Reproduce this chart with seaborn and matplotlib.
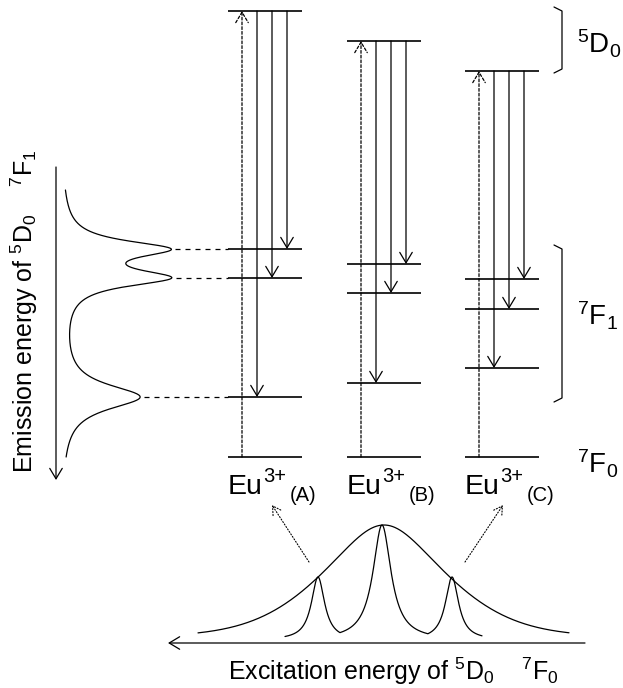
import numpy as np
import pandas as pd
import matplotlib
matplotlib.use("Agg")
import matplotlib.pyplot as plt
import seaborn as sns

# ---------------- data (diagram units: pixels of the reference, y downwards) ----------
sites = ["A", "B", "C"]
site_left = [228, 347, 465]            # left end of each site's level lines
level_len = 74
d0_level = [11, 41, 71]                # 5D0 level per site
f1_levels = [[249, 278, 397],          # 7F1 sublevels per site
             [264, 293, 383],
             [279, 309, 368]]
f0_level = 457                         # 7F0 ground level

# emission spectrum (5D0 -> 7F1 of site A), drawn vertically
em_peak_pos = [249, 278, 397]
em_peak_height = [99, 99, 78]
em_peak_width = [10, 10, 15]
em_baseline = 61
em_range = [190, 457]

# excitation spectrum (5D0 - 7F0)
ex_baseline = 640
ex_broad_center = 384
ex_broad_height = 115
ex_broad_sigma = 68
ex_broad_gamma = 62
ex_broad_range = [198, 569]
ex_narrow_pos = [318, 382, 452]
ex_narrow_height = [63, 115, 63]
ex_narrow_width = [8, 11, 8]
ex_narrow_range = [285, 482]

# ---------------- style ----------------
sns.set_theme(style="white")
plt.rcParams["font.family"] = ["Liberation Sans", "DejaVu Sans"]
plt.rcParams["text.color"] = "black"
plt.rcParams["mathtext.fontset"] = "custom"
plt.rcParams["mathtext.rm"] = "Liberation Sans"
plt.rcParams["mathtext.it"] = "Liberation Sans:italic"
plt.rcParams["mathtext.bf"] = "Liberation Sans:bold"

fig = plt.figure(figsize=(6.23, 6.88), dpi=100)
ax = fig.add_axes([0, 0, 1, 1])
ax.set_xlim(0, 623)
ax.set_ylim(688, 0)
ax.axis("off")
renderer = fig.canvas.get_renderer()

K = "black"
LW_LEVEL = 1.2
LW = 0.9


def arrow(x0, y0, x1, y1, ls="-", lw=LW, hl=0.75, hw=0.45):
    ax.annotate("", xy=(x1, y1), xytext=(x0, y0),
                arrowprops=dict(arrowstyle=f"->,head_length={hl},head_width={hw}",
                                lw=lw, color=K, linestyle=ls,
                                shrinkA=0, shrinkB=0, mutation_scale=10))


def compose(x, y, parts):
    """Place text pieces one after another: (text, size, dy, gap_before)."""
    for txt, size, dy, gap in parts:
        x += gap
        t = ax.text(x, y + dy, txt, fontsize=size, ha="left", va="baseline", color=K)
        bb = t.get_window_extent(renderer=renderer)
        x += bb.width  # 1 data unit == 1 pixel


# ---------------- energy levels ----------------
for i, s in enumerate(sites):
    x0 = site_left[i]
    x1 = x0 + level_len
    for y in [d0_level[i]] + f1_levels[i] + [f0_level]:
        ax.plot([x0, x1], [y, y], color=K, lw=LW_LEVEL, solid_capstyle="butt")
    # excitation (dotted, upward)
    arrow(x0 + 14, f0_level, x0 + 14, d0_level[i], ls=(0, (2.2, 1.6)), lw=0.9)
    # emissions to 7F1 sublevels
    offs = [59, 44, 29]
    for off, y in zip(offs, f1_levels[i]):
        arrow(x0 + off, d0_level[i], x0 + off, y)
    compose(x0, 494, [("Eu", 20.5, 0, 0),
                      ("3+", 14.5, -11.5, 0),
                      ("(%s)" % s, 14.5, 7, 4)])

# brackets
def bracket(y0, y1, x=562, hook=8):
    ax.plot([x - hook, x, x, x - hook], [y0 - 3, y0 + 1, y1 - 1, y1 + 3],
            color=K, lw=LW)

bracket(10, 70)
bracket(248, 399)

ax.text(577, 53, r"$^{5}\mathrm{D}_{0}$", fontsize=20, ha="left", va="baseline")
ax.text(577, 326, r"$^{7}\mathrm{F}_{1}$", fontsize=20, ha="left", va="baseline")
ax.text(577, 473, r"$^{7}\mathrm{F}_{0}$", fontsize=20, ha="left", va="baseline")

# ---------------- emission spectrum (vertical) ----------------
ey = np.linspace(em_range[0], em_range[1], 800)
ex = np.full_like(ey, em_baseline, dtype=float)
for p, h, w in zip(em_peak_pos, em_peak_height, em_peak_width):
    ex = ex + h / (1 + ((ey - p) / w) ** 2)
em_df = pd.DataFrame({"x": ex, "y": ey})
sns.lineplot(data=em_df, x="x", y="y", sort=False, estimator=None,
             color=K, lw=LW, ax=ax)

for p in em_peak_pos:
    xp = np.interp(p, ey, ex)
    ax.plot([xp + 4, site_left[0]], [p, p], color=K, lw=LW,
            linestyle=(0, (4, 4)))

arrow(56, 167, 56, 480)
ax.text(33, 473, r"Emission energy of $^{5}\mathrm{D}_{0}$    $^{7}\mathrm{F}_{1}$",
        rotation=90, rotation_mode="anchor", ha="left", va="baseline",
        fontsize=18)

# ---------------- excitation spectrum ----------------
bx = np.linspace(ex_broad_range[0], ex_broad_range[1], 800)
d = bx - ex_broad_center
broad = ex_broad_height * (0.5 * np.exp(-d ** 2 / (2 * ex_broad_sigma ** 2))
                           + 0.5 / (1 + (d / ex_broad_gamma) ** 2))
sns.lineplot(x=bx, y=ex_baseline - broad, sort=False, estimator=None,
             color=K, lw=LW, ax=ax)

nx = np.linspace(ex_narrow_range[0], ex_narrow_range[1], 1200)
narrow = np.zeros_like(nx)
for p, h, w in zip(ex_narrow_pos, ex_narrow_height, ex_narrow_width):
    narrow = np.maximum(narrow, h / (1 + ((nx - p) / w) ** 2))
sns.lineplot(x=nx, y=ex_baseline - narrow, sort=False, estimator=None,
             color=K, lw=LW, ax=ax)

arrow(585, 643, 168, 643)
ax.text(228, 680, r"Excitation energy of $^{5}\mathrm{D}_{0}$    $^{7}\mathrm{F}_{0}$",
        ha="left", va="baseline", fontsize=18)

# dotted pointers from spectrum to sites
arrow(309, 562, 272, 505, ls=":", lw=0.8, hl=0.6, hw=0.35)
arrow(465, 562, 503, 505, ls=":", lw=0.8, hl=0.6, hw=0.35)

fig.savefig("out.png", dpi=100)
